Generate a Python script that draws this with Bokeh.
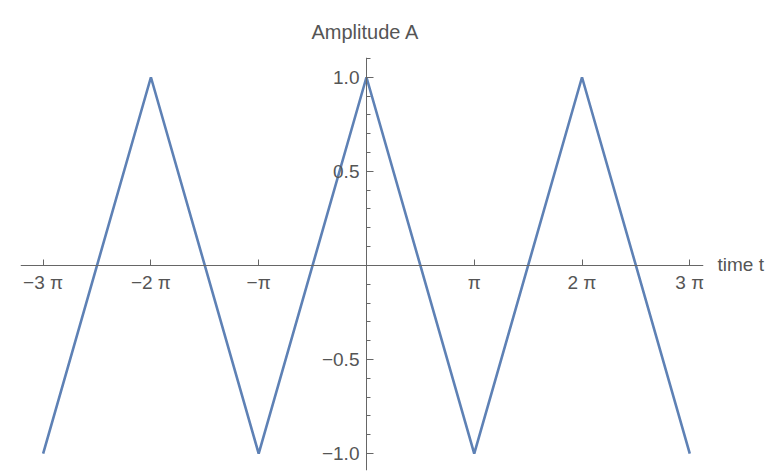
import math
from bokeh.plotting import figure
from bokeh.models import FixedTicker, Range1d, LinearAxis
from bokeh.embed import file_html
from bokeh.resources import INLINE

# data: triangle wave vertices (t in multiples of pi)
t_over_pi = [-3, -2, -1, 0, 1, 2, 3]
amplitude = [-1.0, 1.0, -1.0, 1.0, -1.0, 1.0, -1.0]

x_ticks_pi = [-3, -2, -1, 1, 2, 3]
x_tick_labels = ["\u22123 \u03c0", "\u22122 \u03c0", "\u2212\u03c0", "\u03c0", "2 \u03c0", "3 \u03c0"]
y_ticks = [-1.0, -0.5, 0.5, 1.0]
y_tick_labels = ["\u22121.0", "\u22120.5", "0.5", "1.0"]
y_minor = [-1.1, -0.9, -0.8, -0.7, -0.6, -0.4, -0.3, -0.2, -0.1,
           0.1, 0.2, 0.3, 0.4, 0.6, 0.7, 0.8, 0.9, 1.1]

PI = math.pi
xs = [v * PI for v in t_over_pi]

FONT = "Liberation Sans"
FS = "19px"
TXT = "#555555"
AX = "#666666"

p = figure(width=776, height=472, output_backend="svg", toolbar_location=None,
           x_range=Range1d(-3 * PI - 0.66, 3 * PI + 0.40),
           y_range=Range1d(-1.09, 1.105),
           min_border_left=20, min_border_right=73, min_border_top=57, min_border_bottom=2)
p.outline_line_color = None
p.xgrid.visible = False
p.ygrid.visible = False
p.background_fill_color = "white"
p.border_fill_color = "white"

p.title.text = "Amplitude A"
p.title.align = "left"
p.title.offset = 291
p.title.text_font = FONT
p.title.text_font_size = "20px"
p.title.text_font_style = "normal"
p.title.text_color = TXT
p.title.standoff = 29

p.line(xs, amplitude, line_color="#5E81B5", line_width=2.6)

xa = p.xaxis[0]
xa.fixed_location = 0
xa.ticker = FixedTicker(ticks=[v * PI for v in x_ticks_pi], minor_ticks=[])
xa.major_label_overrides = {v * PI: lab for v, lab in zip(x_ticks_pi, x_tick_labels)}
xa.major_tick_in = 6
xa.major_tick_out = 0
xa.minor_tick_in = 0
xa.minor_tick_out = 0
xa.axis_line_color = AX
xa.major_tick_line_color = AX
xa.major_label_text_font = FONT
xa.major_label_text_font_size = FS
xa.major_label_text_color = TXT
xa.major_label_standoff = 7

ya = p.yaxis[0]
ya.fixed_location = 0
ya.ticker = FixedTicker(ticks=y_ticks, minor_ticks=y_minor)
ya.major_label_overrides = {v: lab for v, lab in zip(y_ticks, y_tick_labels)}
ya.major_tick_in = 7
ya.major_tick_out = 0
ya.minor_tick_in = 4
ya.minor_tick_out = 0
ya.axis_line_color = AX
ya.major_tick_line_color = AX
ya.minor_tick_line_color = AX
ya.major_label_text_font = FONT
ya.major_label_text_font_size = FS
ya.major_label_text_color = TXT
ya.major_label_standoff = 7

# right-hand axis used only to carry the "time t" label
ra = LinearAxis(ticker=FixedTicker(ticks=[]), axis_label="time t",
                axis_label_orientation="horizontal", axis_label_standoff=14,
                axis_label_text_font=FONT, axis_label_text_font_size=FS,
                axis_label_text_font_style="normal", axis_label_text_color=TXT,
                axis_line_color=None, major_tick_line_color=None,
                minor_tick_line_color=None)
p.add_layout(ra, "right")

open("out.html", "w").write(file_html(p, INLINE))
